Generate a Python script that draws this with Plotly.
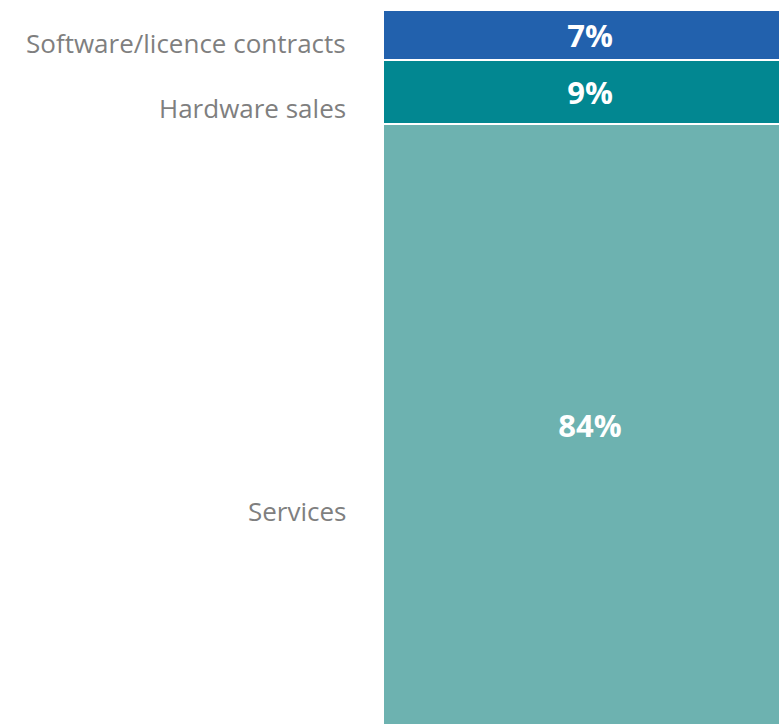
import plotly.graph_objects as go

# Revenue split by stream (share of total, %)
categories = ["Software/licence contracts", "Hardware sales", "Services"]
shares = [7, 9, 84]
colors = ["#2261AD", "#028791", "#6DB2B0"]

# Vertical placement of the category captions (paper fraction)
caption_y = [0.954, 0.863, 0.299]

fig = go.Figure()
for name, val, col in zip(categories, shares, colors):
    fig.add_trace(go.Bar(
        x=[0], y=[val], width=1, name=name,
        marker=dict(color=col, line=dict(color="white", width=2)),
        text=[f"{val}%"], textposition="inside", insidetextanchor="middle",
        textfont=dict(family="Open Sans", size=31, color="white", weight="bold"),
        textangle=0, hoverinfo="skip",
    ))

for name, yy in zip(categories, caption_y):
    fig.add_annotation(
        text=name, xref="paper", yref="paper", x=0, y=yy,
        xanchor="right", yanchor="middle", xshift=-35, showarrow=False,
        font=dict(family="Open Sans", size=26, color="#7F7F7F"),
    )

fig.update_layout(
    width=779, height=725,
    margin=dict(l=383, r=0, t=10, b=0),
    barmode="stack",
    showlegend=False,
    plot_bgcolor="white", paper_bgcolor="white",
    # the bar runs on past the right edge of the frame
    xaxis=dict(visible=False, range=[-0.5, 0.4565], autorange=False),
    yaxis=dict(visible=False, range=[100, 0], autorange=False),
    uniformtext=dict(mode=False),
)

fig.write_html("out.html")
